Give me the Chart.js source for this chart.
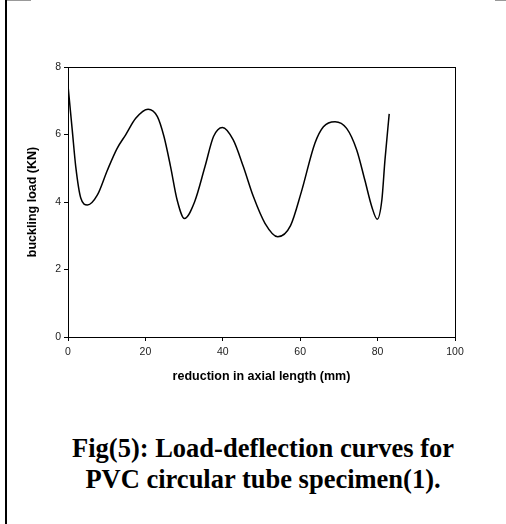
<!DOCTYPE html>
<html>
<head>
<meta charset="utf-8">
<script src="https://cdn.jsdelivr.net/npm/chart.js@4.4.0/dist/chart.umd.min.js"></script>
<style>
    body { margin: 0; background: #fff; width: 506px; height: 524px; position: relative; overflow: hidden; }
    #moldura { position: absolute; left: 5px; top: 0; width: 2px; height: 524px; background: #000; }
    #linhaTopoEsq { position: absolute; left: 7px; top: 0; width: 24px; height: 1px; background: #999; }
    #linhaTopoDir { position: absolute; left: 495px; top: 0; width: 11px; height: 1px; background: #999; }
    #grafico { position: absolute; left: 0; top: 0; width: 506px; height: 390px; }
    #legenda {
        position: absolute; left: 0; top: 433px; width: 526px; text-align: center;
        font-family: "Liberation Serif", "Times New Roman", serif; font-weight: bold;
        font-size: 26.5px; line-height: 31px; color: #000;
    }
</style>
</head>
<body>
<div id="moldura"></div>
<div id="linhaTopoEsq"></div>
<div id="linhaTopoDir"></div>
<div id="grafico"><canvas id="myChartCanvas"></canvas></div>
<div id="legenda">Fig(5): Load-deflection curves for<br>PVC circular tube specimen(1).</div>

<script>
    // dados: reducao no comprimento (mm) x carga (KN)
    const reducaoMm = [0, 1.1, 2.0, 3.3, 5.0, 7.6, 10.2, 12.7, 14.9, 17.5, 20.7, 23.1, 24.8, 26.5, 28.2, 30.1,
        32.7, 35.4, 37.6, 39.9, 42.7, 45.3, 47.9, 50.9, 54.2, 57.5, 60.3, 63.8, 66.0, 69.0, 72.0, 74.6,
        76.7, 78.5, 79.9, 81.1, 81.9, 83.0];
    const cargaKN = [7.45, 6.13, 5.05, 4.12, 3.91, 4.21, 4.95, 5.59, 5.99, 6.48, 6.75, 6.53, 5.94, 5.05, 4.06, 3.51,
        4.0, 5.05, 5.94, 6.21, 5.84, 5.05, 4.16, 3.37, 2.97, 3.3, 4.3, 5.74, 6.23, 6.38, 6.18, 5.54,
        4.65, 3.86, 3.49, 4.06, 5.24, 6.61];
    const ticksX = [0, 20, 40, 60, 80, 100];
    const ticksY = [0, 2, 4, 6, 8];

    const fonteTicks = { family: 'Liberation Sans, Arial, sans-serif', size: 10.5 };
    const fonteTitulo = { family: 'Liberation Sans, Arial, sans-serif', size: 12.5, weight: 'bold' };

    // moldura em volta da area do grafico
    const bordaArea = {
        id: 'bordaArea',
        afterDraw(chart) {
            const { ctx, chartArea: a } = chart;
            ctx.save();
            ctx.strokeStyle = '#000';
            ctx.lineWidth = 1;
            ctx.strokeRect(Math.round(a.left) + 0.5, Math.round(a.top) + 0.5, Math.round(a.right - a.left), Math.round(a.bottom - a.top));
            ctx.restore();
        }
    };

    let pontos = [];
    for (let i = 0; i < reducaoMm.length; i++) {
        pontos.push({ x: reducaoMm[i], y: cargaKN[i] });
    }

    const config = {
        type: 'scatter',
        data: {
            datasets: [{
                data: pontos,
                showLine: true,
                borderColor: '#000',
                borderWidth: 1.5,
                pointRadius: 0,
                cubicInterpolationMode: 'monotone',
                fill: false
            }]
        },
        options: {
            responsive: true,
            maintainAspectRatio: false,
            animation: false,
            layout: { padding: { left: 0, top: 67, right: 51, bottom: 5 } },
            plugins: { legend: { display: false }, tooltip: { enabled: false } },
            scales: {
                x: {
                    type: 'linear', min: 0, max: 100,
                    afterBuildTicks: (s) => { s.ticks = ticksX.map(v => ({ value: v })); },
                    afterFit: (s) => { s.height = 48; },
                    grid: { display: true, drawOnChartArea: false, drawTicks: true, tickLength: 4, color: '#000' },
                    border: { display: true, color: '#000', width: 1 },
                    ticks: { color: '#222', font: fonteTicks, padding: 5, maxRotation: 0 },
                    title: { display: true, text: 'reduction in axial length (mm)', color: '#000', font: fonteTitulo, padding: { top: 0, bottom: 0.5 } }
                },
                y: {
                    type: 'linear', min: 0, max: 8,
                    afterBuildTicks: (s) => { s.ticks = ticksY.map(v => ({ value: v })); },
                    afterFit: (s) => { s.width = 68; },
                    grid: { display: true, drawOnChartArea: false, drawTicks: true, tickLength: 4, color: '#000' },
                    border: { display: true, color: '#000', width: 1 },
                    ticks: { color: '#222', font: fonteTicks, padding: 3 },
                    title: { display: true, text: 'buckling load (KN)', color: '#000', font: fonteTitulo, padding: { top: 25.5, bottom: 0 } }
                }
            }
        },
        plugins: [bordaArea]
    };

    let myChart = new Chart(document.getElementById('myChartCanvas'), config);
</script>
</body>
</html>
